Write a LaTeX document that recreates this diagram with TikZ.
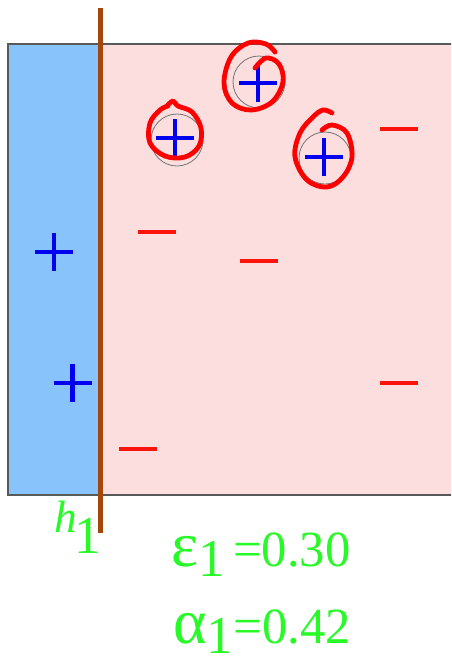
\documentclass[tikz,border=0pt]{standalone}
\usepackage{fontspec}
\setmainfont{Liberation Serif}
\newfontfamily\lblfont{Liberation Serif}
\usetikzlibrary{calc}
\definecolor{wkBlue}{RGB}{136,196,251}
\definecolor{wkPink}{RGB}{253,222,222}
\definecolor{stumpBrown}{RGB}{165,70,12}
\definecolor{lblGreen}{RGB}{40,250,40}
\definecolor{sgnBlue}{RGB}{0,0,240}
\definecolor{sgnRed}{RGB}{250,20,10}
\begin{document}
\begin{tikzpicture}[
        x=0.75pt,
        y=-0.75pt,
        region/.style={draw=black!65, line width=0.9pt},
        possign/.style={draw=sgnBlue, line width=3.7pt},
        negsign/.style={draw=sgnRed, line width=3.7pt},
        ring/.style={draw=black!55, line width=0.6pt},
        scribble/.style={draw=red, line width=3.6pt, line cap=round, line join=round},
        lbl/.style={text=lblGreen, inner sep=0pt, font=\lblfont\fontsize{38}{40}\selectfont}
    ]
        \useasboundingbox (0,0) rectangle (451,662);
        \clip (0,0) rectangle (451,662);

        % weak learner regions
        \fill[wkPink] (100,44) rectangle (470,495);
        \fill[wkBlue] (8,44) rectangle (100,495);
        \draw[region] (470,44) -- (8,44) -- (8,495) -- (470,495);

        % misclassified points get rings
        \foreach \x/\y in {177/140, 259/82, 325/158} {
            \draw[ring] (\x,\y) circle[radius=26];
        }

        \foreach \x/\y in {54/252, 72.5/383, 175/138, 258/83, 324/157} {
            \draw[possign] ({\x-19},\y) -- ({\x+19},\y) (\x,{\y-19}) -- (\x,{\y+19});
        }
        \foreach \x/\y in {157/232, 259/261, 398.5/129, 398.5/383, 138/449} {
            \draw[negsign] ({\x-19},\y) -- ({\x+19},\y);
        }

        % hand drawn loops
        \draw[scribble] plot[smooth, tension=0.6] coordinates {(167,106) (173,101) (178,106) (192,112) (201,128) (199,146) (185,157) (165,156) (150,143) (150,123) (160,110) (168,106)};
        \draw[scribble] plot[smooth, tension=0.6] coordinates {(275,52) (266,44) (248,43) (231,57) (224,83) (232,103) (251,110) (272,102) (283,82) (279,64) (266,58) (255,68)};
        \draw[scribble] plot[smooth, tension=0.6] coordinates {(332,113) (323,110) (313,117) (300,133) (295,157) (307,180) (327,187) (343,177) (352,157) (347,133) (332,125) (322,130)};

        % stump h1
        \coordinate (stumpTop) at (100.5,8);
        \coordinate (stumpBot) at (100.5,533);
        \draw[stumpBrown, line width=3.8pt] (stumpTop) -- (stumpBot);

        \node[lbl, anchor=base west, font=\lblfont\fontsize{34}{36}\selectfont\itshape] (hname) at (54,532) {h};
        \node[lbl, anchor=base west, font=\lblfont\fontsize{40}{40}\selectfont] (hsub) at (74,553) {1};

        \node[lbl, anchor=base west] (eps) at (171,566) {{\fontsize{48}{48}\selectfont ε}\raisebox{-8pt}{\fontsize{40}{40}\selectfont 1}\,=0.30};
        \node[lbl, anchor=base west] (alpha) at (173,643) {{\fontsize{48}{48}\selectfont α}\raisebox{-8pt}{\fontsize{40}{40}\selectfont 1}=0.42};
    \end{tikzpicture}
\end{document}
